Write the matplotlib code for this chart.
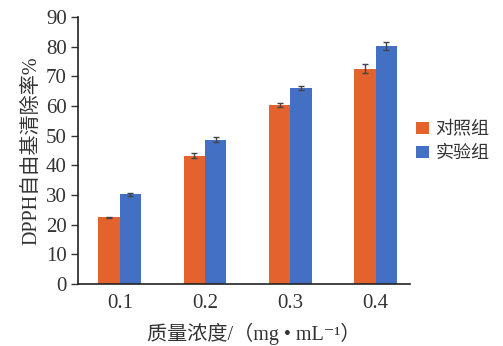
import matplotlib
matplotlib.use("Agg")
import matplotlib.pyplot as plt
import numpy as np

categories = ["0.1", "0.2", "0.3", "0.4"]
control = [22.5, 43.3, 60.3, 72.5]
control_err = [0.2, 0.8, 0.8, 1.5]
experiment = [30.2, 48.7, 66.2, 80.2]
experiment_err = [0.4, 0.8, 0.7, 1.2]
series_names = ["对照组", "实验组"]
ylabel = "DPPH自由基清除率%"
xlabel = "质量浓度/（mg • mL⁻¹）"

plt.rcParams['font.family'] = ['Liberation Serif', 'Noto Sans CJK SC', 'DejaVu Sans']

fig = plt.figure(figsize=(5.03, 3.46), dpi=100)
ax = fig.add_axes([0.155, 0.179, 0.66, 0.772])

x = np.arange(len(categories))
w = 0.25
orange = '#E4622D'
blue = '#4470C4'
ax.bar(x - w/2, control, w, color=orange, label=series_names[0],
       yerr=control_err, error_kw=dict(ecolor='#444444', capsize=2.5, elinewidth=1, capthick=1))
ax.bar(x + w/2, experiment, w, color=blue, label=series_names[1],
       yerr=experiment_err, error_kw=dict(ecolor='#444444', capsize=2.5, elinewidth=1, capthick=1))

ax.set_xlim(-0.49, 3.4)
ax.set_ylim(0, 90)
ax.set_yticks(np.arange(0, 91, 10))
ax.set_xticks(x)
ax.set_xticklabels(categories)
ax.tick_params(axis='x', length=0, labelsize=15, pad=7, colors='#333333')
ax.tick_params(axis='y', length=5, width=1, labelsize=15, pad=3, colors='#333333', direction='out')
for s in ['top', 'right']:
    ax.spines[s].set_visible(False)
ax.spines['left'].set_color('#222222')
ax.spines['bottom'].set_color('#222222')
ax.spines['left'].set_linewidth(1.2)
ax.spines['bottom'].set_linewidth(1.2)

ax.set_ylabel(ylabel, fontsize=14.5, color='#333333', labelpad=3)
ax.set_xlabel(xlabel, fontsize=14.5, color='#333333', labelpad=3)
ax.xaxis.set_label_coords(0.53, -0.145)

leg = fig.legend(loc='upper left', bbox_to_anchor=(0.828, 0.65), frameon=False,
                 fontsize=13, handlelength=0.7, handleheight=0.7, handletextpad=0.35,
                 labelspacing=0.4, labelcolor='#333333', borderpad=0, borderaxespad=0)

fig.savefig("out.png", dpi=100)
